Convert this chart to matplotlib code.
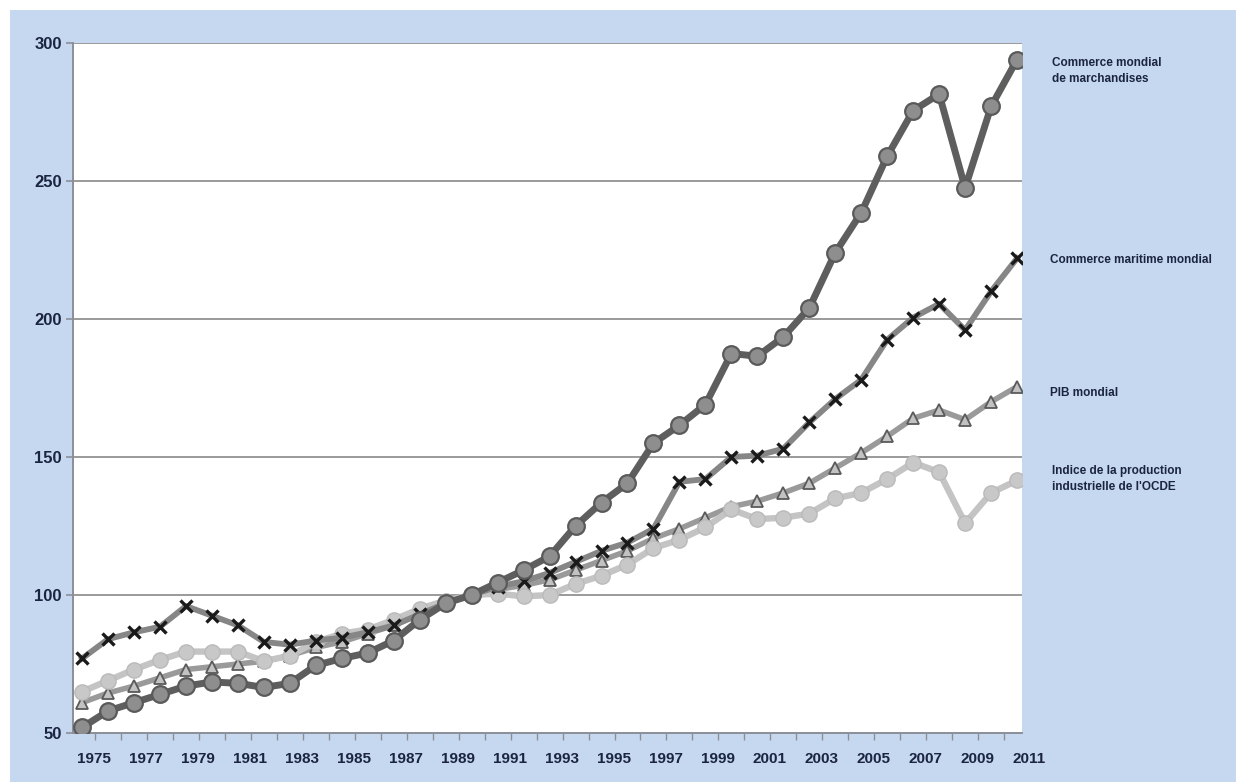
import matplotlib
matplotlib.use("Agg")
import matplotlib.pyplot as plt
from matplotlib.patches import Rectangle
from matplotlib.transforms import blended_transform_factory, offset_copy

years = list(range(1975, 2012))

commerce_marchandises = [52, 58, 61, 64, 67, 68.5, 68, 66.5, 68, 74.5, 77, 79, 83.5, 91, 97,
                         100, 104.5, 109, 114, 125, 133.5, 140.5, 155, 161.5, 169, 187.5,
                         186.5, 193.5, 204, 224, 238.5, 259, 275.5, 281.5, 247.5, 277, 294]
commerce_maritime = [77, 84, 86.5, 88.5, 96, 92.5, 89, 83, 82, 83.5, 84.5, 86.5, 89, 93, 97,
                     100, 103, 105, 108, 112, 116, 119, 124, 141, 142, 150, 150.5, 153,
                     162.5, 171, 178, 192.5, 200.5, 205.5, 196, 210, 222]
pib_mondial = [61, 64.5, 67, 70, 73, 74, 75, 76, 78, 81, 83, 86, 89, 93, 97,
               100, 102, 103.5, 105.5, 109, 112.5, 116, 120.5, 124, 128, 132, 134,
               137, 140.5, 146, 151.5, 157.5, 164, 167, 163.5, 170, 175.5]
production_ocde = [65, 69, 73, 76.5, 79.5, 79.5, 79.5, 76, 78, 83, 86, 87.5, 91, 95, 98,
                   100, 100.5, 99.5, 100, 104, 107, 111, 117, 120, 124.5, 131, 127.5,
                   128, 129.5, 135, 137, 142, 148, 144.5, 126, 137, 141.5]

y_ticks = [50, 100, 150, 200, 250, 300]
x_label_years = list(range(1975, 2012, 2))

series_labels = {
    "marchandises": "Commerce mondial\nde marchandises",
    "maritime": "Commerce maritime mondial",
    "pib": "PIB mondial",
    "ocde": "Indice de la production\nindustrielle de l'OCDE",
}

W, H = 1236, 782
fig = plt.figure(figsize=(W / 100, H / 100), dpi=100, facecolor="white")

panel_blue = "#c6d8ef"
text_navy = "#1b2440"
font = ["Liberation Sans", "DejaVu Sans"]

# light-blue panel behind the chart
fig.patches.append(Rectangle((10 / W, 0), 1 - 10 / W, 1 - 10 / H,
                             transform=fig.transFigure, facecolor=panel_blue,
                             edgecolor="none", zorder=-5))

ax = fig.add_axes([73 / W, 1 - 733 / H, (1022 - 73) / W, (733 - 43) / H])
ax.set_facecolor("white")
ax.set_xlim(1974.65, 2011.19)
ax.set_ylim(50, 300)

for v in y_ticks[1:]:
    ax.axhline(v, color="#9a9a9a", lw=1.4, zorder=1)

ax.plot(years, pib_mondial, color="#9a9a9a", lw=4.0, marker="^", ms=9,
        mfc="#c2c2c2", mec="#5a5a5a", mew=1.3, zorder=3)
ax.plot(years, production_ocde, color="#c4c4c4", lw=4.6, marker="o", ms=11,
        mfc="#c8c8c8", mec="#bababa", mew=1.0, zorder=4)
ax.plot(years, commerce_maritime, color="#868686", lw=4.2, marker="x", ms=8,
        mec="#1a1a1a", mew=2.4, zorder=5)
ax.plot(years, commerce_marchandises, color="#5e5e5e", lw=5.0, marker="o", ms=12,
        mfc="#8e8e8e", mec="#5a5a5a", mew=1.6, zorder=6)

for s in ["top", "right"]:
    ax.spines[s].set_visible(False)
for s in ["left", "bottom"]:
    ax.spines[s].set_color("#8a8f98")
    ax.spines[s].set_linewidth(1.4)

ax.set_yticks(y_ticks)
ax.set_yticklabels([str(v) for v in y_ticks], fontfamily=font, fontweight="bold",
                   fontsize=12, color=text_navy)
ax.tick_params(axis="y", length=5, width=1.2, color="#8a8f98", pad=3)

ax.set_xticks([y + 0.5 for y in years[:-1]])
ax.set_xticklabels([])
ax.tick_params(axis="x", length=5, width=1.0, color="#8a8f98")

xlab_tr = offset_copy(blended_transform_factory(ax.transData, ax.transAxes),
                      fig=fig, y=-26, units="dots")
for yr in x_label_years:
    ax.text(yr + 0.47, 0, str(yr), transform=xlab_tr, ha="center", va="center",
            fontfamily=font, fontweight="bold", fontsize=11, color=text_navy,
            clip_on=False)

label_pos = {
    "marchandises": (1052, 71),
    "maritime": (1050, 260),
    "pib": (1050, 393),
    "ocde": (1052, 479),
}
for key, (px, py) in label_pos.items():
    fig.text(px / W, 1 - py / H, series_labels[key], ha="left", va="center",
             fontfamily=font, fontweight="bold", fontsize=8.5, color=text_navy,
             linespacing=1.45)

fig.savefig("out.png", dpi=100, facecolor="white")
